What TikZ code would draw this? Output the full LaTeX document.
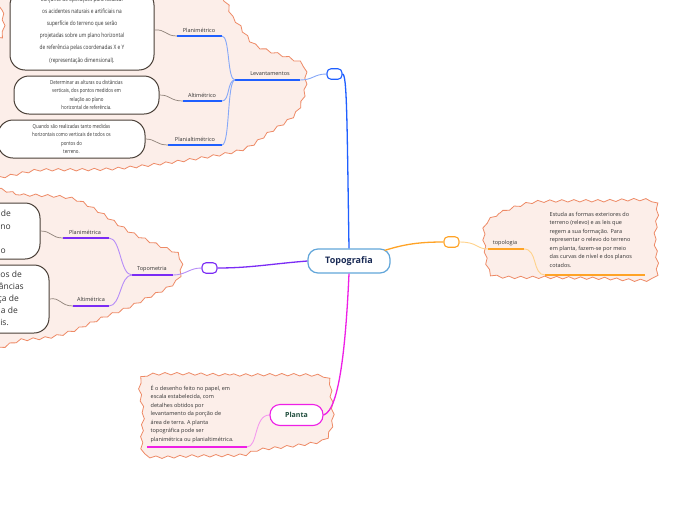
\documentclass[tikz,border=0pt]{standalone}
\usepackage{fontspec}
\setmainfont{Open Sans}
\newfontfamily\condfont[FakeStretch=0.8]{Open Sans}
\usetikzlibrary{decorations.pathmorphing}
\definecolor{cloudfill}{HTML}{FCEEE9}
\definecolor{cloudline}{HTML}{EE8A66}
\definecolor{blueM}{HTML}{1F5FFF}
\definecolor{blueL}{HTML}{86A8F8}
\definecolor{purM}{HTML}{7B2CF5}
\definecolor{purL}{HTML}{B68CF8}
\definecolor{oraM}{HTML}{FFA326}
\definecolor{oraL}{HTML}{FFD28A}
\definecolor{magM}{HTML}{EE1FE6}
\definecolor{magL}{HTML}{F49AEE}
\definecolor{greyc}{HTML}{8E8178}
\definecolor{boxline}{HTML}{4A4038}
\definecolor{navy}{HTML}{1A2B55}
\definecolor{centreline}{HTML}{62A6DA}
\definecolor{plantatext}{HTML}{1E4D3C}
\definecolor{labelc}{HTML}{333333}
\newcommand{\padR}[1]{\rule{#1}{0pt}}
\begin{document}
\begin{tikzpicture}[x=1pt,y=-1pt,
  cloudshape/.style={fill=cloudfill, draw=cloudline, line width=0.8,
    decorate, decoration={snake, segment length=12, amplitude=1.2}},
  lbl/.style={font=\fontsize{5.5}{6}\selectfont, text=labelc, inner sep=0},
  ul/.style={line width=1.6},
  hub/.style={draw, fill=white, rounded corners=4, minimum width=15, minimum height=10.5, inner sep=0, line width=1.1},
  greyconn/.style={draw=greyc, line width=0.7},
  tbox/.style={draw=boxline, line width=1, fill=white, rounded corners=15, align=center, inner sep=0, text=labelc},
  smalltxt/.style={font=\condfont\fontsize{5.5}{8.2}\selectfont},
  bigtxt/.style={font=\fontsize{8.5}{12.3}\selectfont}
]
\useasboundingbox (0,0) rectangle (696,520);
\fill[white] (0,0) rectangle (696,520);

% clouds
\path[cloudshape] plot[smooth cycle, tension=0.5] coordinates {(-5,-12) (2,10) (2,32) (-15,50) (-25,168) (40,167) (110,166) (180,158) (240,147) (267,130) (293,112) (303,90) (303,64) (287,55) (253,42) (233,17) (200,-12)};
\path[cloudshape] plot[smooth cycle, tension=0.5] coordinates {(-25,198) (20,195) (67,198) (93,210) (127,232) (157,246) (175,254) (179,266) (176,279) (165,288) (147,297) (125,308) (100,318) (73,330) (50,337) (20,340) (-25,342)};
\path[cloudshape] plot[smooth cycle, tension=0.4] coordinates {(482,226) (500,213) (533,203) (600,202) (652,203) (652,240) (652,280) (600,280) (545,279) (490,277) (482,250)};
\path[cloudshape] plot[smooth cycle, tension=0.4] coordinates {(142,376) (230,375) (320,376) (328,395) (330,420) (322,440) (290,446) (255,450) (240,455) (190,456) (142,455) (141,415)};

% central node
\node[draw=centreline, line width=1.2, fill=white, rounded corners=10, minimum width=82, minimum height=24, inner sep=0,
  font=\bfseries\fontsize{9}{10}\selectfont, text=navy] (topo) at (349,261) {Topografia};

% hubs
\node[hub, draw=blueM] (hubB) at (334.5,74) {};
\node[hub, draw=purM] (hubP) at (209.5,268) {};
\node[hub, draw=oraM] (hubO) at (451.5,242) {};

% Levantamentos branch
\node[lbl] (lev) at (270,74) {Levantamentos};
\coordinate (levL) at (235,80); \coordinate (levR) at (300,80);
\node[lbl] (plm) at (199,30) {Planimétrico};
\coordinate (plmL) at (177,36); \coordinate (plmR) at (222,36);
\node[lbl] (alm) at (202,95) {Altimétrico};
\coordinate (almL) at (183,101); \coordinate (almR) at (222,101);
\node[lbl] (pam) at (195,139) {Planialtimétrico};
\coordinate (pamL) at (168,145); \coordinate (pamR) at (222,145);

\draw[ul, blueM] (levL) -- (levR);
\draw[ul, blueM] (plmL) -- (plmR);
\draw[ul, blueM] (almL) -- (almR);
\draw[ul, blueM] (pamL) -- (pamR);

\draw[blueM, line width=1.3] (topo.north) .. controls (347,120) and (347,74) .. (hubB.east);
\draw[blueL, line width=0.9] (hubB.west) .. controls (314,74) and (313,80) .. (levR);
\draw[blueL, line width=0.9] (levL) .. controls (227,80) and (230,36) .. (plmR);
\draw[blueL, line width=0.9] (levL) .. controls (227,80) and (230,101) .. (almR);
\draw[blueL, line width=0.9] (levL) .. controls (227,80) and (230,145) .. (pamR);

\node[tbox, smalltxt, font=\condfont\fontsize{6}{12.2}\selectfont, minimum width=144, minimum height=80] (b1) at (82,30)
 {Conjunto de operações para localizar\\os acidentes naturais e artificiais na\\superfície do terreno que serão\\projetadas sobre um plano horizontal\\de referência pelas coordenadas X e Y\\(representação dimensional).};
\node[tbox, smalltxt, minimum width=145, minimum height=38] (b2) at (86.5,95)
 {Determinar as alturas ou distâncias\\verticais, dos pontos medidos em\\relação ao plano\\horizontal de referência.};
\node[tbox, smalltxt, minimum width=147, minimum height=38] (b3) at (71.5,139)
 {Quando são realizadas tanto medidas\\horizontais como verticais de todos os\\pontos do\\terreno.};

\draw[greyconn] (b1.east) .. controls (166,29) and (165,36) .. (plmL);
\draw[greyconn] (b2.east) .. controls (171,95) and (170,101) .. (almL);
\draw[greyconn] (b3.east) .. controls (156,139) and (156,145) .. (pamL);

% Topometria branch
\node[lbl] (tpm) at (152,269) {Topometria};
\coordinate (tpmL) at (132,275); \coordinate (tpmR) at (173,275);
\node[lbl] (plma) at (85,232) {Planimétrica};
\coordinate (plmaL) at (63,238); \coordinate (plmaR) at (109,238);
\node[lbl] (alma) at (91,299) {Altimétrica};
\coordinate (almaL) at (73,306); \coordinate (almaR) at (109,306);

\draw[ul, purM] (tpmL) -- (tpmR);
\draw[ul, purM] (plmaL) -- (plmaR);
\draw[ul, purM] (almaL) -- (almaR);

\draw[purM, line width=1.3] (topo.west) .. controls (270,264) and (250,268) .. (hubP.east);
\draw[purL, line width=0.9] (hubP.west) .. controls (189,268) and (186,275) .. (tpmR);
\draw[purL, line width=0.9] (tpmL) .. controls (120,275) and (121,238) .. (plmaR);
\draw[purL, line width=0.9] (tpmL) .. controls (120,275) and (121,306) .. (almaR);

\node[tbox, minimum width=200, minimum height=56] (bA) at (-60,231) {};
\node[bigtxt, align=right, anchor=east, text=labelc, inner sep=0] (tA) at (12,232)
 {Medição de ângulos e distâncias de\padR{1pt}\\pontos projetados no\padR{1pt}\\plano\padR{70pt}\\do terreno\padR{6pt}};
\node[tbox, minimum width=200, minimum height=68] (bB) at (-51,299) {};
\node[bigtxt, font=\fontsize{8.5}{12}\selectfont, align=right, anchor=east, text=labelc, inner sep=0] (tB) at (24,299)
 {Medição das alturas dos pontos de\padR{2pt}\\distâncias\\verticais ou diferença de\padR{5pt}\\nível, a partir da medida de\padR{6pt}\\planos horizontais.\padR{15pt}};

\draw[greyconn] (bA.east) .. controls (52,231) and (51,238) .. (plmaL);
\draw[greyconn] (bB.east) .. controls (61,297) and (60,306) .. (almaL);

% topologia branch
\node[lbl] (tpl) at (505,243) {topologia};
\coordinate (tplL) at (488,249); \coordinate (tplR) at (524,249);
\coordinate (txL) at (545,275); \coordinate (txR) at (645,275);
\draw[ul, oraM] (tplL) -- (tplR);
\draw[ul, oraM] (txL) -- (txR);
\draw[oraM, line width=1.3] (topo.north east) ++(-6,2) .. controls (405,244) and (420,242) .. (hubO.west);
\draw[oraL, line width=0.9] (hubO.east) .. controls (478,242) and (476,249) .. (tplL);
\draw[oraL, line width=0.9] (tplR) .. controls (538,249) and (532,275) .. (txL);
\node[font=\fontsize{5.5}{8.5}\selectfont, align=left, anchor=north west, text=labelc, inner sep=0] (ttx) at (549.5,212)
 {Estuda as formas exteriores do\\terreno (relevo) e as leis que\\regem a sua formação. Para\\representar o relevo do terreno\\em planta, fazem-se por meio\\das curvas de nível e dos planos\\cotados.};

% Planta branch
\node[draw=magM, line width=1.1, fill=white, rounded corners=10, minimum width=53, minimum height=21, inner sep=0,
  font=\bfseries\fontsize{7}{8}\selectfont, text=plantatext] (pla) at (296.5,415) {Planta};
\coordinate (plxL) at (147,447); \coordinate (plxR) at (247,447);
\draw[ul, magM] (plxL) -- (plxR);
\draw[magM, line width=1.3] (topo.south) .. controls (346,340) and (340,410) .. (pla.east);
\draw[magL, line width=0.9] (pla.west) .. controls (254,415) and (258,447) .. (plxR);
\node[font=\fontsize{5.5}{8.5}\selectfont, align=left, anchor=north west, text=labelc, inner sep=0] (ptx) at (150.5,385)
 {É o desenho feito no papel, em\\escala estabelecida, com\\detalhes obtidos por\\levantamento da porção de\\área de terra. A planta\\topográfica pode ser\\planimétrica ou planialtimétrica.};
\end{tikzpicture}
\end{document}
